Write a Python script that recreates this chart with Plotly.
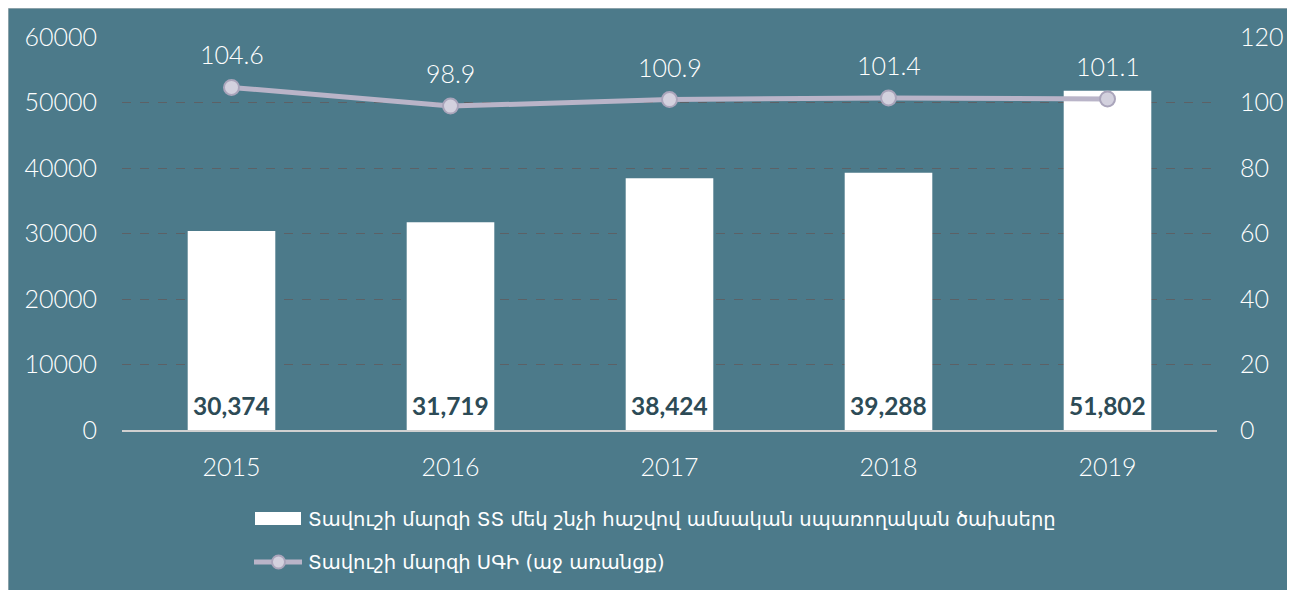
import plotly.graph_objects as go

years = ["2015", "2016", "2017", "2018", "2019"]
spending = [30374, 31719, 38424, 39288, 51802]
cpi = [104.6, 98.9, 100.9, 101.4, 101.1]
name_bar = "Տավուշի մարզի ՏՏ մեկ շնչի հաշվով ամսական սպառողական ծախսերը"
name_line = "Տավուշի մարզի ՍԳԻ (աջ առանցք)"

BG = "#4c7a8a"
OFF = 8  # page body margin
SW, SH = 1295, 590           # screen size
W, H = SW - OFF, SH - OFF    # figure size
# plot area in screen pixels
L, R, T, B = 122, 1217, 37, 430
pw, ph = R - L, B - T


def px_x(p):
    return (p - L) / pw


def px_y(p):
    return (B - p) / ph


fig = go.Figure()
fig.add_trace(go.Bar(
    x=years, y=spending, name=name_bar,
    marker=dict(color="white", line=dict(width=0)),
    width=0.4, showlegend=False,
))
fig.add_trace(go.Scatter(
    x=years, y=cpi, name=name_line, yaxis="y2",
    mode="lines+markers",
    line=dict(color="#b9b4c8", width=5),
    marker=dict(size=15, color="#d3d1de", line=dict(color="#aaa5bb", width=2)),
    cliponaxis=False, showlegend=False,
))

annotations = []
for i, v in enumerate(spending):
    annotations.append(dict(
        x=i, y=0, xref="x", yref="y", text=f"{v:,}", showarrow=False,
        yanchor="middle", yshift=25,
        font=dict(family="Lato", size=24.5, color="#2d4b56", weight="bold"),
    ))
for i, v in enumerate(cpi):
    annotations.append(dict(
        x=i, y=v, xref="x", yref="y2", text=f"{v:.1f}", showarrow=False,
        yanchor="middle", yshift=33,
        font=dict(family="Lato", size=25, color="white", weight=300),
    ))

# custom legend
annotations.append(dict(
    x=px_x(306), y=px_y(519), xref="paper", yref="paper", text=name_bar,
    showarrow=False, xanchor="left", yanchor="middle",
    font=dict(family="DejaVu Sans", size=19.5, color="white"),
))
annotations.append(dict(
    x=px_x(306), y=px_y(562), xref="paper", yref="paper", text=name_line,
    showarrow=False, xanchor="left", yanchor="middle",
    font=dict(family="DejaVu Sans", size=19.5, color="white"),
))

shapes = [
    # frame (top/left edge)
    dict(type="line", xref="paper", yref="paper",
         x0=px_x(OFF), x1=px_x(SW + 5), y0=px_y(OFF), y1=px_y(OFF),
         line=dict(color="#c8c8c8", width=1)),
    dict(type="line", xref="paper", yref="paper",
         x0=px_x(OFF), x1=px_x(OFF), y0=px_y(OFF), y1=px_y(SH + 5),
         line=dict(color="#c8c8c8", width=1)),
    # legend: bar symbol
    dict(type="rect", xref="paper", yref="paper",
         x0=px_x(255), x1=px_x(301), y0=px_y(525), y1=px_y(512),
         fillcolor="white", line=dict(width=0)),
    # legend: line symbol
    dict(type="line", xref="paper", yref="paper",
         x0=px_x(254), x1=px_x(302), y0=px_y(562), y1=px_y(562),
         line=dict(color="#b9b4c8", width=5)),
    dict(type="circle", xref="paper", yref="paper",
         x0=px_x(272), x1=px_x(285), y0=px_y(568.5), y1=px_y(555.5),
         fillcolor="#d3d1de", line=dict(color="#aaa5bb", width=2)),
]

tickfont = dict(family="Lato", size=25, color="white", weight=300)
fig.update_layout(
    width=W, height=H,
    margin=dict(l=L - OFF, r=W - (R - OFF), t=T - OFF, b=H - (B - OFF), pad=0),
    paper_bgcolor=BG, plot_bgcolor=BG,
    font=dict(family="Lato", color="white", size=22),
    showlegend=False,
    xaxis=dict(
        type="category", categoryorder="array", categoryarray=years,
        range=[-0.5, len(years) - 0.5],
        showgrid=False, showline=True, linecolor="#d0d0d0", linewidth=2,
        ticks="", tickfont=tickfont, ticklabelstandoff=14,
    ),
    yaxis=dict(
        range=[0, 60000], dtick=10000, tickformat="d",
        showgrid=True, gridcolor="#5c6166", griddash="dash", gridwidth=1,
        zeroline=False, showline=False, ticks="",
        tickfont=tickfont, ticklabelstandoff=24,
    ),
    yaxis2=dict(
        range=[0, 120], dtick=20, overlaying="y", side="right",
        showgrid=False, zeroline=False, showline=False, ticks="",
        tickfont=tickfont, ticklabelstandoff=22,
    ),
    annotations=annotations,
    shapes=shapes,
)

fig.write_html("out.html")
